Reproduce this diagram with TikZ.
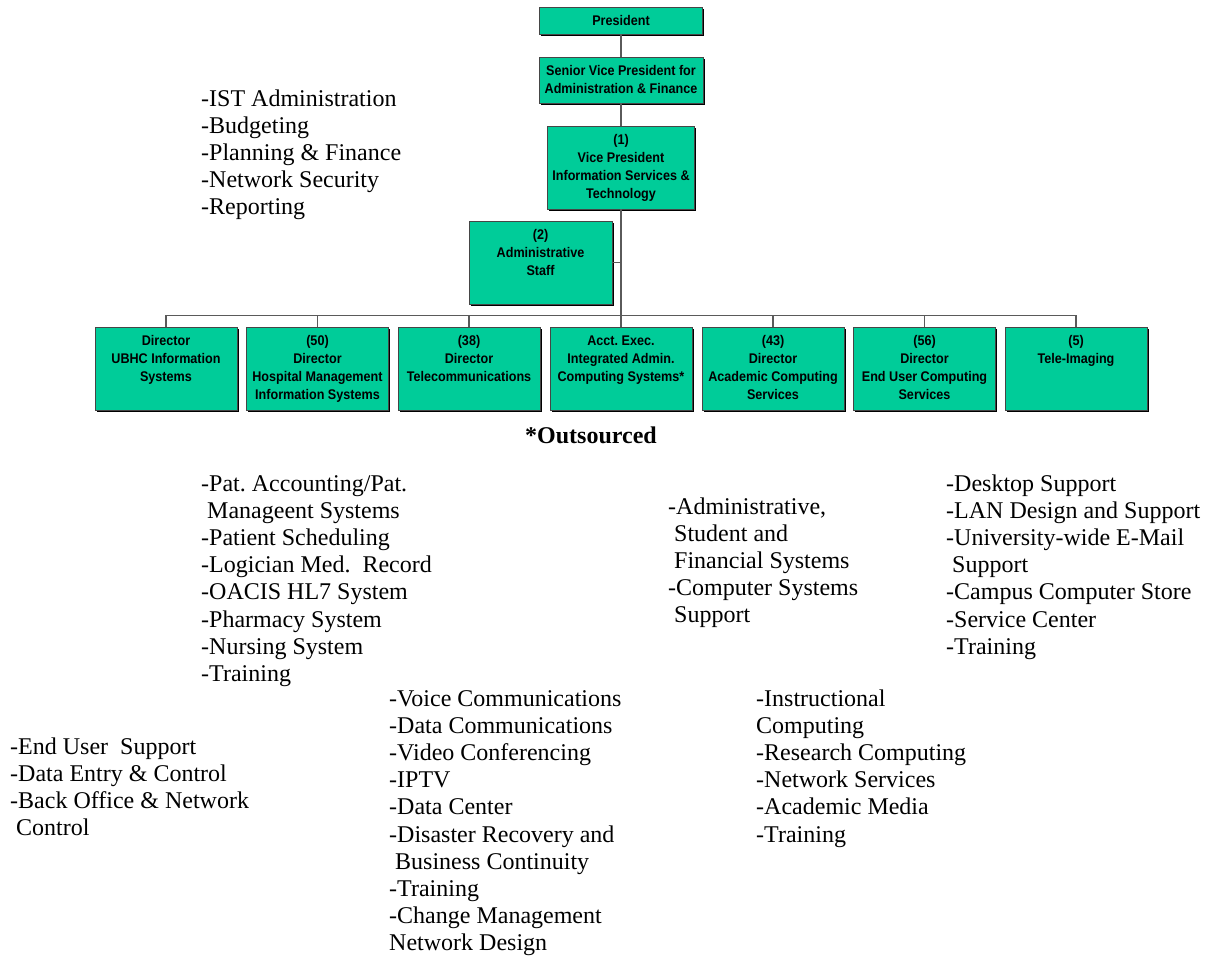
\documentclass[tikz,border=0pt]{standalone}
\usepackage{fontspec}
\setmainfont{Liberation Serif}
\newfontfamily\boxfont[FakeStretch=0.9]{Liberation Sans}
\usetikzlibrary{shadows}
\definecolor{boxgreen}{RGB}{0,204,153}
\definecolor{linegray}{RGB}{90,90,90}
\definecolor{boxedge}{RGB}{70,70,70}
\frenchspacing

\begin{document}
\begin{tikzpicture}[x=1pt,y=-1pt,
  gbox/.style={draw=boxedge, line width=0.7pt, fill=boxgreen, inner sep=0pt,
    drop shadow={shadow xshift=1.6pt, shadow yshift=-1.6pt, fill=black, opacity=1}},
  dbox/.style={gbox, minimum width=142pt, minimum height=83pt},
  btext/.style={anchor=north, inner sep=0pt, align=center,
    font=\boxfont\bfseries\fontsize{14}{18}\selectfont, yshift=-5.7pt},
  conn/.style={draw=linegray, line width=1.2pt},
  duties/.style={anchor=north west, inner sep=0pt, align=left,
    font=\fontsize{24}{27.2}\selectfont}
]
\useasboundingbox (0,0) rectangle (1217,960);

% boxes
\node[gbox, minimum width=163pt, minimum height=27pt] (pres) at (621,20.5) {};
\node[gbox, minimum width=164pt, minimum height=46pt] (svp) at (621,80) {};
\node[gbox, minimum width=147pt, minimum height=83pt] (vp) at (621,167.5) {};
\node[gbox, minimum width=143pt, minimum height=83pt] (adm) at (540.5,262.5) {};
\node[dbox] (d1) at (166,368.5) {};
\node[dbox] (d2) at (317.5,368.5) {};
\node[dbox] (d3) at (469,368.5) {};
\node[dbox] (d4) at (621,368.5) {};
\node[dbox] (d5) at (773,368.5) {};
\node[dbox] (d6) at (924.5,368.5) {};
\node[dbox] (d7) at (1076,368.5) {};

% connectors
\draw[conn] (pres.south) -- (svp.north);
\draw[conn] (svp.south) -- (vp.north);
\draw[conn] (vp.south) -- (d4.north);
\draw[conn] (adm.east) -- (adm.east -| vp.south);
\path (d1.north) ++(0,-11) coordinate (busl);
\draw[conn] (d1.north) -- (busl) -- (busl -| d7.north) -- (d7.north);
\foreach \n in {d2,d3,d5,d6} \draw[conn] (\n.north) -- (\n.north |- busl);

% box texts
\node[btext] (tpres) at (pres.north) {\strut President};
\node[btext] (tsvp) at (svp.north) {\strut Senior Vice President for\\Administration \& Finance};
\node[btext] (tvp) at (vp.north) {\strut (1)\\Vice President\\Information Services \&\\Technology};
\node[btext] (tadm) at (adm.north) {\strut (2)\\Administrative\\Staff};
\node[btext] (t1) at (d1.north) {\strut Director\\UBHC Information\\Systems};
\node[btext] (t2) at (d2.north) {\strut (50)\\Director\\Hospital Management\\Information Systems};
\node[btext] (t3) at (d3.north) {\strut (38)\\Director\\Telecommunications};
\node[btext] (t4) at (d4.north) {\strut Acct. Exec.\\Integrated Admin.\\Computing Systems*};
\node[btext] (t5) at (d5.north) {\strut (43)\\Director\\Academic Computing\\Services};
\node[btext] (t6) at (d6.north) {\strut (56)\\Director\\End User Computing\\Services};
\node[btext] (t7) at (d7.north) {\strut (5)\\Tele-Imaging};

% outsourced note
\node[anchor=base, inner sep=0pt, font=\fontsize{24}{27}\selectfont\bfseries] (outs) at (591,443) {*Outsourced};

% duty lists
\node[duties] (lA) at (201,86.9) {\strut -IST Administration\\-Budgeting\\-Planning \& Finance\\-Network Security\\-Reporting};
\node[duties] (lB) at (201,471.9) {\strut -Pat. Accounting/Pat.\\\ Manageent Systems\\-Patient Scheduling\\-Logician Med.\ \ Record\\-OACIS HL7 System\\-Pharmacy System\\-Nursing System\\-Training};
\node[duties] (lC) at (668,494.9) {\strut -Administrative,\\\ Student and\\\ Financial Systems\\-Computer Systems\\\ Support};
\node[duties] (lD) at (946,471.9) {\strut -Desktop Support\\-LAN Design and Support\\-University-wide E-Mail\\\ Support\\-Campus Computer Store\\-Service Center\\-Training};
\node[duties] (lE) at (389,686.9) {\strut -Voice Communications\\-Data Communications\\-Video Conferencing\\-IPTV\\-Data Center\\-Disaster Recovery and\\\ Business Continuity\\-Training\\-Change Management\\Network Design};
\node[duties] (lF) at (756,686.9) {\strut -Instructional\\Computing\\-Research Computing\\-Network Services\\-Academic Media\\-Training};
\node[duties] (lG) at (10,734.9) {\strut -End User\ \ Support\\-Data Entry \& Control\\-Back Office \& Network\\\ Control};
\end{tikzpicture}
\end{document}
